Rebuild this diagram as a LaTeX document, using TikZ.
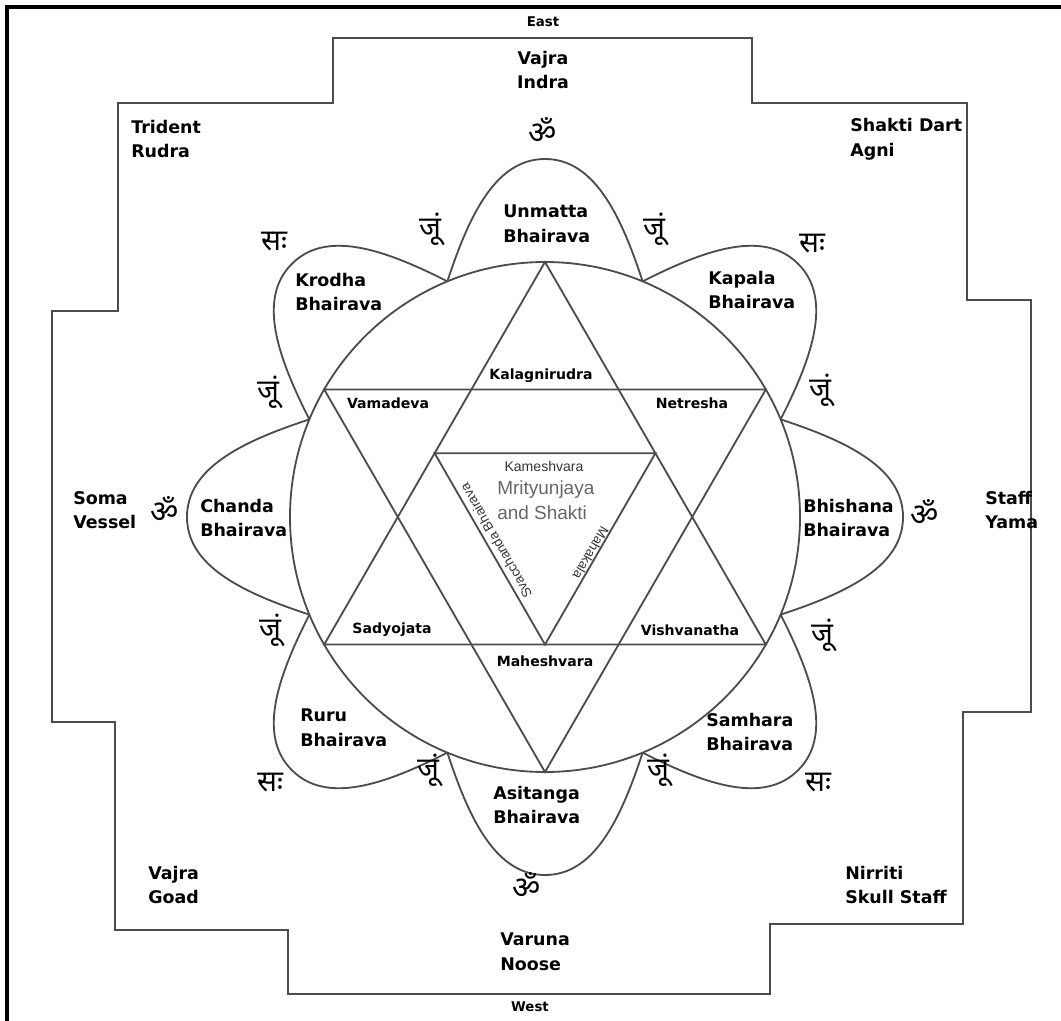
\documentclass[tikz,border=0pt]{standalone}
\usepackage{fontspec}
\setmainfont{DejaVu Sans}
\newfontfamily\devafont[Script=Devanagari]{Noto Sans}
\newfontfamily\thinfont{Liberation Sans}
\usetikzlibrary{calc}

\begin{document}
\begin{tikzpicture}[x=0.025cm, y=-0.025cm,
					wall/.style={line width=1.3pt, 
					draw=black!70},
					bhairava/.style={align=left,
					anchor=west,
					inner sep=0pt,
					font=\fontsize{12.4}{17.5}\selectfont\bfseries},
					seat/.style={inner sep=0pt,
					font=\fontsize{10}{12}\selectfont\bfseries},
					quarter/.style={inner sep=0pt,
					font=\fontsize{9.5}{11}\selectfont\bfseries},
					om/.style={inner sep=0pt,
					font=\devafont\fontsize{22}{22}\selectfont},
					bija/.style={inner sep=0pt,
					font=\devafont\fontsize{21}{21}\selectfont},
					fine/.style={inner sep=0pt,
					text=black!80,
					font=\thinfont\fontsize{10}{12}\selectfont},
					heart/.style={align=left,
					anchor=west,
					inner sep=0pt,
					text=black!60,
					font=\thinfont\fontsize{13.5}{17.5}\selectfont},
					node distance = 1.2cm
					]

\useasboundingbox (0,0) rectangle (1061,1021);

% frame and stepped wall
\draw[line width=2.8pt] (7,1021) -- (7,7) -- (1061,7);
\draw[wall] (333,38) -- (752,38) -- (752,103) -- (967,103) -- (967,300) -- (1031,300)
	-- (1031,712) -- (963,712) -- (963,924) -- (770,924) -- (770,994) -- (288,994)
	-- (288,930) -- (115,930) -- (115,722) -- (52,722) -- (52,311) -- (118,311)
	-- (118,103) -- (333,103) -- cycle;

% circle and triangles
\coordinate (C) at (545,517);
\coordinate (U1) at (545,262);
\coordinate (U2) at (324.2,644.5);
\coordinate (U3) at (765.8,644.5);
\coordinate (D1) at (545,772);
\coordinate (D2) at (324.2,389.5);
\coordinate (D3) at (765.8,389.5);
\coordinate (M1) at ($(U1)!0.5!(U2)$);
\coordinate (M2) at ($(U1)!0.5!(U3)$);
\coordinate (M3) at ($(U2)!0.5!(U3)$);

\draw[wall] (C) circle (255);
\draw[wall] (U1) -- (U2) -- (U3) -- cycle;
\draw[wall] (D1) -- (D2) -- (D3) -- cycle;
\draw[wall] (M1) -- (M2) -- (M3) -- cycle;

% petals
\draw[wall, shift={(C)}, rotate=0] (235.6,-97.6) .. controls (305,-75) and (358,-48) .. (358,0) .. controls (358,48) and (305,75) .. (235.6,97.6);
\draw[wall, shift={(C)}, rotate=45] (235.6,-97.6) .. controls (305,-75) and (358,-48) .. (358,0) .. controls (358,48) and (305,75) .. (235.6,97.6);
\draw[wall, shift={(C)}, rotate=90] (235.6,-97.6) .. controls (305,-75) and (358,-48) .. (358,0) .. controls (358,48) and (305,75) .. (235.6,97.6);
\draw[wall, shift={(C)}, rotate=135] (235.6,-97.6) .. controls (305,-75) and (358,-48) .. (358,0) .. controls (358,48) and (305,75) .. (235.6,97.6);
\draw[wall, shift={(C)}, rotate=180] (235.6,-97.6) .. controls (305,-75) and (358,-48) .. (358,0) .. controls (358,48) and (305,75) .. (235.6,97.6);
\draw[wall, shift={(C)}, rotate=225] (235.6,-97.6) .. controls (305,-75) and (358,-48) .. (358,0) .. controls (358,48) and (305,75) .. (235.6,97.6);
\draw[wall, shift={(C)}, rotate=270] (235.6,-97.6) .. controls (305,-75) and (358,-48) .. (358,0) .. controls (358,48) and (305,75) .. (235.6,97.6);
\draw[wall, shift={(C)}, rotate=315] (235.6,-97.6) .. controls (305,-75) and (358,-48) .. (358,0) .. controls (358,48) and (305,75) .. (235.6,97.6);

% quarters
\node[quarter]  (East) at (543,22) {East};
\node[bhairava, anchor=center, align=center]  (Indra) [below of = East] {Vajra\\Indra};
\node[om]  (OmEast) [below of = Indra, node distance = 1.5cm] {ॐ};
\node[quarter]  (West) at (530,1007) {West};
\node[bhairava]  (Varuna) at (500,952) {Varuna\\Noose};
\node[om]  (OmWest) at (527,885) {ॐ};

\node[bhairava]  (Rudra) at (131,139) {Trident\\Rudra};
\node[bhairava]  (Agni) at (850,139) {Shakti Dart\\Agni};
\node[bhairava]  (Soma) at (73,510) {Soma\\Vessel};
\node[om]  (OmNorth) at (165,509) {ॐ};
\node[bhairava]  (Yama) at (985,510) {Staff\\Yama};
\node[om]  (OmSouth) at (925,512) {ॐ};
\node[bhairava]  (Goad) at (148,885) {Vajra\\Goad};
\node[bhairava]  (Nirriti) at (845,885) {Nirriti\\Skull Staff};

% bija syllables
\node[bija]  (SaNW) at (274,242) {सः};
\node[bija]  (SaNE) at (812,244) {सः};
\node[bija]  (SaSW) at (270,783) {सः};
\node[bija]  (SaSE) at (818,783) {सः};

\node[bija]  (JumA) at (430,229) {जूं};
\node[bija]  (JumB) at (654,229) {जूं};
\node[bija]  (JumC) at (268,392) {जूं};
\node[bija]  (JumD) at (820,390) {जूं};
\node[bija]  (JumE) at (270,630) {जूं};
\node[bija]  (JumF) at (822,635) {जूं};
\node[bija]  (JumG) at (428,770) {जूं};
\node[bija]  (JumH) at (658,770) {जूं};

% eight bhairavas
\node[bhairava]  (Unmatta) at (503,224) {Unmatta\\Bhairava};
\node[bhairava]  (Kapala) at (708,290) {Kapala\\Bhairava};
\node[bhairava]  (Bhishana) at (803,518) {Bhishana\\Bhairava};
\node[bhairava]  (Samhara) at (706,732) {Samhara\\Bhairava};
\node[bhairava]  (Asitanga) at (493,805) {Asitanga\\Bhairava};
\node[bhairava]  (Ruru) at (300,728) {Ruru\\Bhairava};
\node[bhairava]  (Chanda) at (200,518) {Chanda\\Bhairava};
\node[bhairava]  (Krodha) at (295,292) {Krodha\\Bhairava};

% hexagram
\node[seat]  (Kalagni) at (541,376) {Kalagnirudra};
\node[seat]  (Vamadeva) at (388,403) {Vamadeva};
\node[seat]  (Netresha) at (692,403) {Netresha};
\node[seat]  (Sadyojata) at (392,630) {Sadyojata};
\node[seat]  (Vishvanatha) at (690,630) {Vishvanatha};
\node[seat]  (Maheshvara) at (545,661) {Maheshvara};

% centre
\node[fine]  (Kameshvara) at (544,466) {Kameshvara};
\node[heart]  (Mrityunjaya) at (497,500) {Mrityunjaya\\and Shakti};
\node[fine, font=\thinfont\fontsize{9.5}{11}\selectfont, rotate=120]  (Svacchanda) at (496,541) {Svacchanda Bhairava};
\node[fine, font=\thinfont\fontsize{9.5}{11}\selectfont, rotate=-120]  (Mahakala) at (591,553) {Mahakala};

\end{tikzpicture}
\end{document}
